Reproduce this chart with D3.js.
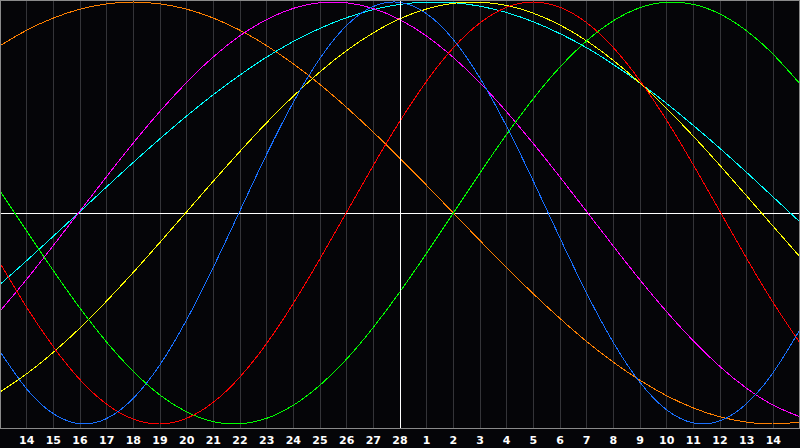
<!DOCTYPE html>
<html><head><meta charset="utf-8">
<script src="https://cdn.jsdelivr.net/npm/d3@7"></script>
<style>html,body{margin:0;padding:0;background:#050508;}svg{display:block;}</style>
</head><body><svg id="c" width="800" height="448"></svg>
<script>
// day labels (t = 0..28), values sampled at t = -1..29
const dayLabels = [14,15,16,17,18,19,20,21,22,23,24,25,26,27,28,1,2,3,4,5,6,7,8,9,10,11,12,13,14];
const sampleT = d3.range(-1, 30);
const physical = [-0.656,-0.834,-0.951,-0.999,-0.974,-0.878,-0.719,-0.506,-0.257,0.011,0.278,0.525,0.733,0.889,0.979,0.998,0.944,0.822,0.639,0.410,0.151,-0.119,-0.380,-0.614,-0.803,-0.933,-0.995,-0.985,-0.903,-0.755,-0.552];
const emotional = [-0.237,-0.447,-0.634,-0.790,-0.906,-0.977,-1.000,-0.973,-0.897,-0.777,-0.618,-0.428,-0.217,0.004,0.226,0.436,0.625,0.783,0.901,0.975,1.000,0.975,0.902,0.784,0.627,0.439,0.228,0.007,-0.215,-0.426,-0.616];
const intellectual = [0.105,-0.086,-0.273,-0.451,-0.612,-0.751,-0.863,-0.943,-0.989,-0.999,-0.973,-0.911,-0.816,-0.692,-0.542,-0.373,-0.190,0.000,0.190,0.373,0.542,0.692,0.816,0.911,0.973,0.999,0.989,0.943,0.863,0.751,0.612];
const intuitive = [-0.465,-0.314,-0.154,0.010,0.173,0.332,0.482,0.619,0.740,0.840,0.917,0.970,0.997,0.996,0.969,0.916,0.838,0.737,0.617,0.479,0.329,0.170,0.007,-0.157,-0.317,-0.468,-0.606,-0.728,-0.831,-0.911,-0.966];
const aesthetic = [-0.848,-0.762,-0.660,-0.545,-0.417,-0.281,-0.139,0.006,0.151,0.292,0.428,0.554,0.669,0.770,0.854,0.921,0.967,0.994,0.999,0.984,0.947,0.891,0.816,0.723,0.616,0.495,0.364,0.225,0.081,-0.064,-0.208];
const spiritual = [-0.339,-0.226,-0.110,0.007,0.124,0.240,0.352,0.460,0.561,0.654,0.739,0.813,0.875,0.926,0.964,0.989,0.999,0.997,0.980,0.950,0.906,0.850,0.783,0.704,0.616,0.519,0.415,0.306,0.192,0.075,-0.043];
const awareness = [0.793,0.866,0.924,0.966,0.991,1.000,0.991,0.966,0.924,0.866,0.793,0.707,0.609,0.500,0.383,0.259,0.131,0.000,-0.131,-0.259,-0.383,-0.500,-0.609,-0.707,-0.793,-0.866,-0.924,-0.966,-0.991,-1.000,-0.991];

const series = [
  {name:"awareness", values:awareness, color:"#ff8000"},
  {name:"spiritual", values:spiritual, color:"#00ffff"},
  {name:"intuitive", values:intuitive, color:"#ff00ff"},
  {name:"aesthetic", values:aesthetic, color:"#ffff00"},
  {name:"intellectual", values:intellectual, color:"#00ff00"},
  {name:"emotional", values:emotional, color:"#ff0000"},
  {name:"physical", values:physical, color:"#1870ff"}
];

const svg = d3.select("#c");
const W = 800, plotH = 428;
const x = d3.scaleLinear().domain([-1, 29]).range([0, W]);
const y = d3.scaleLinear().domain([-1, 1]).range([424, 2]);

svg.append("rect").attr("x",0).attr("y",0).attr("width",800).attr("height",448).attr("fill","#050508");

// vertical day grid
const todayIdx = 14;
svg.append("g").selectAll("line").data(dayLabels.map((d,i)=>i)).join("line")
  .attr("x1", i => Math.floor(x(i)) + 0.5).attr("x2", i => Math.floor(x(i)) + 0.5)
  .attr("y1", 0).attr("y2", plotH)
  .attr("stroke", i => i === todayIdx ? "#ffffff" : "#343438")
  .attr("stroke-width", 1).attr("shape-rendering","crispEdges");

// horizontal zero line
const y0 = Math.round(y(0)) + 0.5;
svg.append("line").attr("x1",0).attr("x2",W).attr("y1",y0).attr("y2",y0)
  .attr("stroke","#ffffff").attr("shape-rendering","crispEdges");

// curves
const line = d3.line().x((d,i)=>x(sampleT[i])).y(d=>y(d)).curve(d3.curveNatural);
svg.append("g").selectAll("path").data(series).join("path")
  .attr("d", s => line(s.values))
  .attr("fill","none").attr("stroke", s => s.color).attr("stroke-width",1)
  .attr("shape-rendering","crispEdges");

// redraw the today line above? (reference shows white line over curves)
svg.append("line").attr("x1", Math.floor(x(todayIdx))+0.5).attr("x2", Math.floor(x(todayIdx))+0.5)
  .attr("y1",0).attr("y2",plotH).attr("stroke","#ffffff").attr("shape-rendering","crispEdges");

// border
svg.append("rect").attr("x",0.5).attr("y",0.5).attr("width",W-1).attr("height",plotH-0.5)
  .attr("fill","none").attr("stroke","#8a8a8a").attr("shape-rendering","crispEdges");

// day labels
svg.append("g").selectAll("text").data(dayLabels).join("text")
  .attr("x",(d,i)=>x(i)).attr("y",444)
  .attr("text-anchor","middle")
  .attr("font-family","'DejaVu Sans', sans-serif").attr("font-weight","bold").attr("font-size","11px")
  .attr("fill","#ffffff").text(d=>d);
</script>
</body></html>
